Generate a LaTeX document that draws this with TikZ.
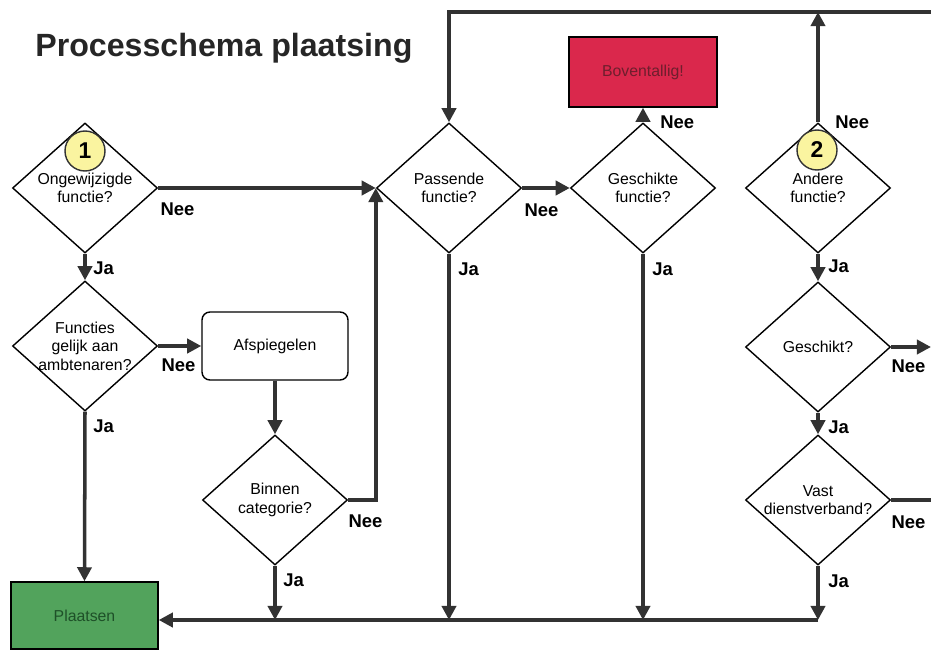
\documentclass[tikz,border=0pt]{standalone}
\usepackage{fontspec}
\setmainfont{Liberation Sans}
\usetikzlibrary{shapes.geometric}
\usetikzlibrary{arrows.meta}
\usetikzlibrary{positioning}

\definecolor{roodvak}{RGB}{218,40,76}
\definecolor{groenvak}{RGB}{82,163,92}
\definecolor{geel}{RGB}{250,244,160}
\definecolor{lijngrijs}{RGB}{50,50,50}

\begin{document}
\begin{tikzpicture}[
    keuze/.style={diamond, draw=black, line width=0.8pt, fill=white, inner sep=-3pt,
        minimum width=2.9cm, minimum height=2.6cm, align=center, font=\fontsize{9}{10.5}\selectfont},
    blok/.style={rectangle, draw=black, line width=0.8pt, minimum width=2.94cm,
        minimum height=1.4cm, align=center, font=\fontsize{9}{10.5}\selectfont},
    nummer/.style={circle, draw=black!80, line width=0.8pt, fill=geel, minimum size=0.8cm,
        inner sep=0pt, font=\fontsize{13}{13}\bfseries},
    flow/.style={draw=lijngrijs, line width=2pt, -{Triangle[length=8pt,width=8pt]}},
    lijn/.style={draw=lijngrijs, line width=2pt},
    lbl/.style={inner sep=0pt, font=\fontsize{10.5}{12}\bfseries}
]
    \useasboundingbox (0,0) rectangle (18.62,12.98);

    % titel
    \node[anchor=base west, inner sep=0pt, font=\fontsize{18.3}{20}\bfseries, text=black!85] (titel)
        at (0.70,11.84) {Processchema plaatsing};

    % beslissingen
    \node[keuze] (d1) at (1.70,9.22) {Ongewijzigde\\functie?};
    \node[keuze] (d2) at (1.70,6.06) {Functies\\gelijk aan\\ambtenaren?};
    \node[keuze] (d3) at (5.50,2.98) {Binnen\\categorie?};
    \node[keuze] (d4) at (8.98,9.22) {Passende\\functie?};
    \node[keuze] (d5) at (12.86,9.22) {Geschikte\\functie?};
    \node[keuze] (d6) at (16.36,9.22) {Andere\\functie?};
    \node[keuze] (d7) at (16.36,6.04) {Geschikt?};
    \node[keuze] (d8) at (16.36,2.98) {Vast\\dienstverband?};

    % blokken
    \node[blok, rounded corners=0.16cm, minimum width=2.92cm, minimum height=1.36cm] (afsp)
        at (5.50,6.06) {Afspiegelen};
    \node[blok, fill=roodvak, text={rgb,255:red,110;green,30;blue,45}, minimum width=2.96cm] (boven)
        at (12.86,11.54) {Boventallig!};
    \node[blok, fill=groenvak, text={rgb,255:red,30;green,80;blue,40}, minimum height=1.34cm] (plaatsen)
        at (1.69,0.67) {Plaatsen};

    % nummers
    \node[nummer] (n1) at (1.70,9.96) {1};
    \node[nummer] (n2) at (16.34,9.98) {2};

    % hulppunten
    \coordinate (rechts) at (18.62,12.74);
    \coordinate (onder) at (16.36,0.58);

    % pijlen links
    \draw[flow] (d1.south) -- (d2.north);
    \draw[flow] (d2.south) -- (plaatsen.north);
    \draw[flow] (d2.east) -- (afsp.west);
    \draw[flow] (afsp.south) -- (d3.north);
    \draw[flow] (d1.east) -- (d4.west);
    \draw[flow] (d3.east) -| (d4.west);
    \draw[flow] (d3.south) -- (d3.south |- onder);

    % pijlen midden
    \draw[flow] (d4.east) -- (d5.west);
    \draw[flow] (d5.north) -- (boven.south);
    \draw[flow] (d4.south) -- (d4.south |- onder);
    \draw[flow] (d5.south) -- (d5.south |- onder);
    \draw[flow] (rechts) -| (d4.north);

    % pijlen rechts
    \draw[flow] (d6.north) -- (d6.north |- rechts);
    \draw[flow] (d6.south) -- (d7.north);
    \draw[flow] (d7.south) -- (d8.north);
    \draw[flow] (d7.east) -- (d7.east -| rechts);
    \draw[lijn] (d8.east) -- (d8.east -| rechts);
    \draw[flow] (d8.south) -- (onder);
    \draw[flow] (onder) -- (onder -| plaatsen.east);

    % Ja / Nee
    \node[lbl, below right=0.16cm and 0.16cm of d1.south] (ja1) {Ja};
    \node[lbl, below right=0.16cm and 0.16cm of d2.south] (ja2) {Ja};
    \node[lbl, below right=0.16cm and 0.16cm of d3.south] (ja3) {Ja};
    \node[lbl, below right=0.18cm and 0.18cm of d4.south] (ja4) {Ja};
    \node[lbl, below right=0.18cm and 0.18cm of d5.south] (ja5) {Ja};
    \node[lbl, below right=0.12cm and 0.2cm of d6.south] (ja6) {Ja};
    \node[lbl, below right=0.16cm and 0.2cm of d7.south] (ja7) {Ja};
    \node[lbl, below right=0.18cm and 0.2cm of d8.south] (ja8) {Ja};

    \node[lbl, below right=0.28cm and 0.04cm of d1.east] (nee1) {Nee};
    \node[lbl, below right=0.25cm and 0.06cm of d2.east] (nee2) {Nee};
    \node[lbl, below right=0.28cm and 0.0cm of d3.east] (nee3) {Nee};
    \node[lbl, below right=0.31cm and 0.04cm of d4.east] (nee4) {Nee};
    \node[lbl, right=0.34cm of d5.north] (nee5) {Nee};
    \node[lbl, right=0.34cm of d6.north] (nee6) {Nee};
    \node[lbl, below right=0.24cm and 0.0cm of d7.east] (nee7) {Nee};
    \node[lbl, below right=0.30cm and 0.0cm of d8.east] (nee8) {Nee};
\end{tikzpicture}
\end{document}
